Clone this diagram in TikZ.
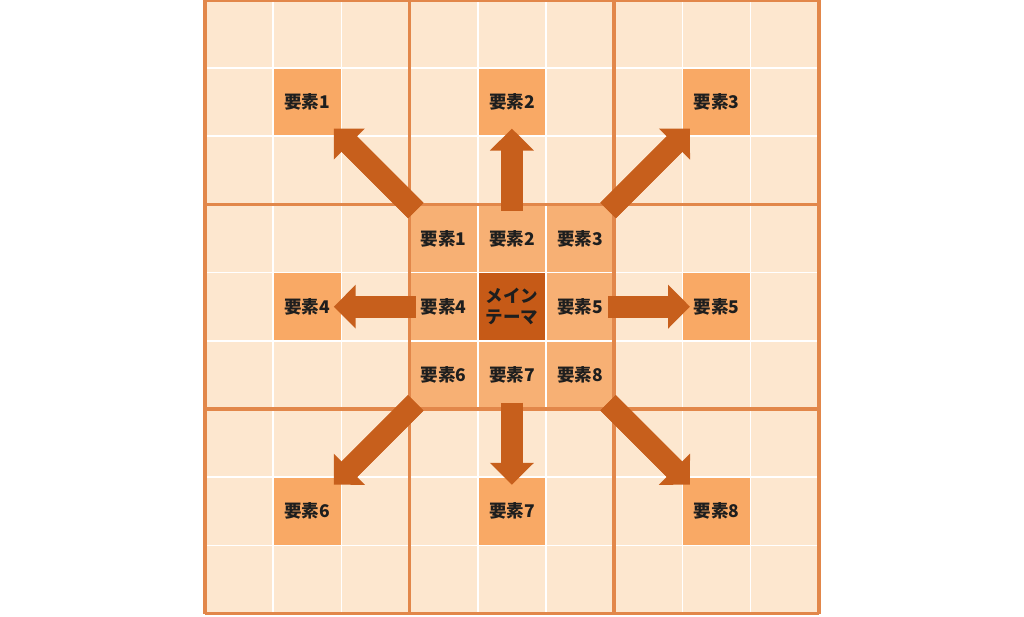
\documentclass[tikz,border=0pt]{standalone}
\usepackage{fontspec}
\newfontfamily\jp{Noto Sans CJK JP}
\usetikzlibrary{arrows.meta,calc}

\definecolor{cellbg}{HTML}{FDE7CF}
\definecolor{subc}{HTML}{F9A965}
\definecolor{innerc}{HTML}{F7B074}
\definecolor{mainc}{HTML}{C65A17}
\definecolor{blockline}{HTML}{E2874A}
\definecolor{arrowc}{HTML}{C75F1C}
\definecolor{txt}{HTML}{1E1E1E}

\tikzset{
  cell/.style={minimum size=1cm, inner sep=0pt, text=txt,
    font=\jp\bfseries\fontsize{7.3}{8.8}\selectfont},
  subcell/.style={cell, fill=subc},
  innercell/.style={cell, fill=innerc},
  maincell/.style={cell, fill=mainc, align=center},
  shaft/.style={draw=arrowc, line width=0.32cm},
  bigarrow/.style={shaft,
    -{Triangle[width=0.645cm,length=0.32cm,line width=0pt]}},
}

\begin{document}
\begin{tikzpicture}
  \useasboundingbox (0,0) rectangle (15.015,9.047);
  \fill[white] (0,0) rectangle (15.015,9.047);

  \begin{scope}[shift={(3.006,0.05)}]
    \fill[cellbg] (0,0) rectangle (9,9);

    % sub themes in the outer blocks
    \foreach \x/\y/\n in {1.5/7.5/1, 4.5/7.5/2, 7.5/7.5/3, 1.5/4.5/4,
                          7.5/4.5/5, 1.5/1.5/6, 4.5/1.5/7, 7.5/1.5/8}
      \node[subcell] (o\n) at (\x,\y) {要素\n};

    % centre block
    \foreach \x/\y/\n in {3.5/5.5/1, 4.5/5.5/2, 5.5/5.5/3, 3.5/4.5/4,
                          5.5/4.5/5, 3.5/3.5/6, 4.5/3.5/7, 5.5/3.5/8}
      \node[innercell] (c\n) at (\x,\y) {要素\n};
    \node[maincell] (main) at (4.5,4.5) {メイン\\テーマ};

    % grid lines
    \draw[white, line width=0.6pt] (0,0) grid (9,9);
    \draw[blockline, line width=1.45pt] (0,0) grid[step=3] (9,9);

    % arrows
    \foreach \n in {1,...,8} {
      \coordinate (s\n) at ($(main)!0.47!(o\n)$);
      \coordinate (e\n) at ($(main)!0.87!(o\n)$);
      \draw[shaft] (s\n) -- ($(e\n)!0.2cm!(s\n)$);
      \draw[bigarrow] (s\n) -- (e\n);
    }
  \end{scope}
\end{tikzpicture}
\end{document}
